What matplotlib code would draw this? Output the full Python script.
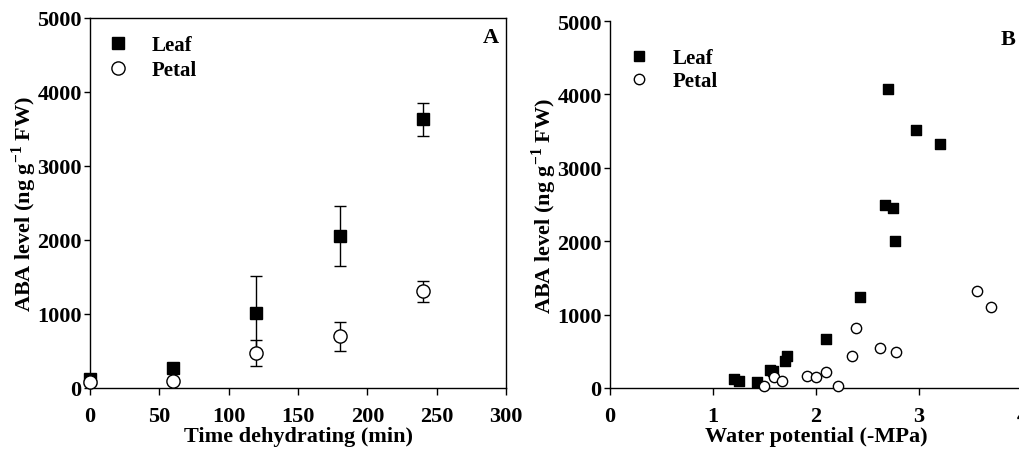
import numpy as np
import matplotlib
matplotlib.use("Agg")
import matplotlib.pyplot as plt
from matplotlib.lines import Line2D

plt.rcParams.update({
    'font.family': 'serif',
    'font.serif': ['Liberation Serif', 'DejaVu Serif'],
    'font.weight': 'bold',
    'mathtext.fontset': 'custom',
    'mathtext.rm': 'Liberation Serif:bold',
    'mathtext.bf': 'Liberation Serif:bold',
    'xtick.labelsize': 16,
    'ytick.labelsize': 16,
    'axes.labelsize': 16,
    'axes.labelweight': 'bold',
})

# panel A: time course
time_min = [0, 60, 120, 180, 240]
leaf_aba = [120, 270, 1015, 2055, 3630]
leaf_err = [0, 0, 500, 410, 225]
petal_aba = [78, 99, 475, 700, 1308]
petal_err = [0, 0, 172, 196, 142]

# panel B: vs water potential
leaf_wp = [1.20, 1.25, 1.43, 1.55, 1.58, 1.70, 1.72, 2.10, 2.43, 2.67, 2.70, 2.75, 2.77, 2.97, 3.20]
leaf_aba_wp = [123, 100, 86, 250, 225, 364, 432, 667, 1235, 2497, 4073, 2457, 2003, 3515, 3320]
petal_wp = [1.50, 1.59, 1.67, 1.91, 2.00, 2.10, 2.21, 2.35, 2.39, 2.62, 2.78, 3.56, 3.70]
petal_aba_wp = [31, 154, 91, 168, 146, 214, 31, 436, 822, 545, 490, 1322, 1104]

ylab = r'ABA level (ng g$^{\mathregular{-1}}$ FW)'

fig = plt.figure(figsize=(10.2, 4.52), dpi=100)
axA = fig.add_axes([90/1020, 63/452, 416/1020, 370/452])
axB = fig.add_axes([610/1020, 63/452, 412/1020, 367/452])

axA.errorbar(time_min, leaf_aba, yerr=leaf_err, fmt='s', color='black', mfc='black',
             ms=8, capsize=4, elinewidth=1, capthick=1, clip_on=False, zorder=3)
axA.errorbar(time_min, petal_aba, yerr=petal_err, fmt='o', color='black', mfc='white',
             ms=9.5, capsize=4, elinewidth=1, capthick=1, clip_on=False, zorder=4)
axA.set_xlim(0, 300)
axA.set_ylim(0, 5000)
axA.set_xticks(range(0, 301, 50))
axA.set_yticks(range(0, 5001, 1000))
axA.set_xlabel('Time dehydrating (min)', labelpad=0)
axA.set_ylabel(ylab)
axA.yaxis.set_label_coords(-0.123, 0.5)
axA.text(0.983, 0.935, 'A', transform=axA.transAxes, ha='right', va='baseline', fontsize=16)
handlesA = [Line2D([], [], ls='none', marker='s', ms=8.5, mfc='black', mec='black'),
            Line2D([], [], ls='none', marker='o', ms=9.5, mfc='white', mec='black')]
axA.legend(handlesA, ['Leaf', 'Petal'], loc='upper left', frameon=False, fontsize=15,
           handlelength=1, handletextpad=1.13, borderpad=0, borderaxespad=0,
           labelspacing=0.25, bbox_to_anchor=(0.042, 0.954))

axB.scatter(leaf_wp, leaf_aba_wp, marker='s', s=42, c='black', zorder=3, clip_on=False)
axB.scatter(petal_wp, petal_aba_wp, marker='o', s=55, facecolors='white', edgecolors='black',
            linewidths=1, zorder=4, clip_on=False)
axB.set_xlim(0, 4)
axB.set_ylim(0, 5000)
axB.set_xticks(range(0, 5))
axB.set_yticks(range(0, 5001, 1000))
axB.set_xlabel('Water potential (-MPa)', labelpad=0)
axB.set_ylabel(ylab)
axB.yaxis.set_label_coords(-0.124, 0.5)
axB.spines['top'].set_visible(False)
axB.text(0.985, 0.937, 'B', transform=axB.transAxes, ha='right', va='baseline', fontsize=16)
handlesB = [Line2D([], [], ls='none', marker='s', ms=6.5, mfc='black', mec='black'),
            Line2D([], [], ls='none', marker='o', ms=7.5, mfc='white', mec='black')]
axB.legend(handlesB, ['Leaf', 'Petal'], loc='upper left', frameon=False, fontsize=15,
           handlelength=1, handletextpad=1.13, borderpad=0, borderaxespad=0,
           labelspacing=0.15, bbox_to_anchor=(0.045, 0.926))

for ax in (axA, axB):
    ax.tick_params(axis='x', direction='out', length=5, width=1, pad=8)
    ax.tick_params(axis='y', direction='out', length=4, width=1, pad=2)
    for sp in ax.spines.values():
        sp.set_linewidth(1)

fig.savefig('out.png', dpi=100)
